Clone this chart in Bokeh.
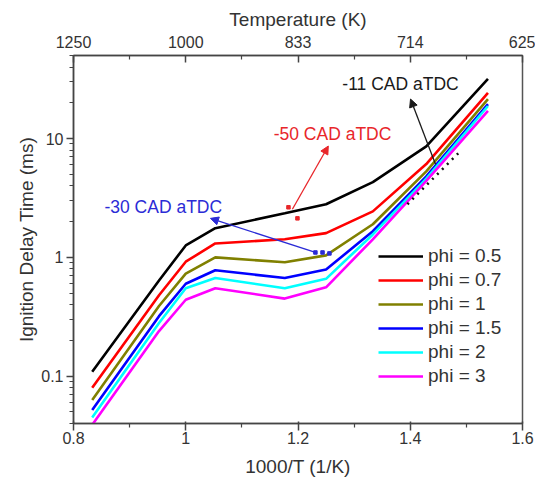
from bokeh.plotting import figure
from bokeh.models import (LinearAxis, FixedTicker, CustomJSTickFormatter, Legend,
                          LegendItem, Label, Arrow, NormalHead)
from bokeh.embed import file_html
from bokeh.resources import INLINE

# ---------------- data ----------------
temps_K = [1200, 1050, 1000, 950, 850, 800, 750, 700, 650]
inv_T = [1000.0 / t for t in temps_K]

phi_labels = ["phi = 0.5", "phi = 0.7", "phi = 1", "phi = 1.5", "phi = 2", "phi = 3"]
phi_colors = ["#000000", "#ff0000", "#808000", "#0000ff", "#00ffff", "#ff00ff"]
idt_phi_05 = [0.109, 0.64, 1.26, 1.76, 2.35, 2.8, 4.3, 8.6, 31.8]
idt_phi_07 = [0.080, 0.48, 0.92, 1.31, 1.42, 1.6, 2.44, 6.1, 24.2]
idt_phi_1 = [0.063, 0.39, 0.73, 1.00, 0.91, 1.04, 1.9, 5.3, 21.5]
idt_phi_15 = [0.052, 0.32, 0.60, 0.78, 0.67, 0.79, 1.66, 4.8, 19.5]
idt_phi_2 = [0.045, 0.28, 0.55, 0.67, 0.55, 0.66, 1.56, 4.6, 18.8]
idt_phi_3 = [0.039, 0.24, 0.44, 0.55, 0.45, 0.56, 1.42, 4.4, 17.1]
series = [idt_phi_05, idt_phi_07, idt_phi_1, idt_phi_15, idt_phi_2, idt_phi_3]

x_ticks = [0.8, 1.0, 1.2, 1.4, 1.6]
x_minor = [0.9, 1.1, 1.3, 1.5]
top_tick_labels = ["1250", "1000", "833", "714", "625"]
y_ticks = [0.1, 1, 10]
y_tick_labels = ["0.1", "1", "10"]
y_minor = [0.04, 0.05, 0.06, 0.07, 0.08, 0.09, 0.2, 0.3, 0.4, 0.5, 0.6, 0.7, 0.8, 0.9,
           2, 3, 4, 5, 6, 7, 8, 9, 20, 30, 40, 50]

# annotations
ann_texts = ["-11 CAD aTDC", "-50 CAD aTDC", "-30 CAD aTDC"]
ann_colors = ["#1a1a1a", "#e8262a", "#2b2bd6"]
ann_text_x = [1.3826, 1.2615, 0.960]
ann_text_y = [28.8, 10.9, 2.64]
ann_arrow_x0 = [1.445, 1.190, 1.231]
ann_arrow_y0 = [6.09, 2.54, 1.10]
ann_arrow_x1 = [1.4005, 1.254, 1.044]
ann_arrow_y1 = [21.5, 8.65, 2.13]
dots11_x = [1.395, 1.4895]
dots11_y = [2.80, 7.85]
dots50_x = [1.183, 1.199]
dots50_y = [2.64, 2.13]
dots30_x = [1.231, 1.2437, 1.256]
dots30_y = [1.10, 1.10, 1.08]

FONT = "Liberation Sans"
TXT = "#333333"

p = figure(width=535, height=484, x_range=(0.8, 1.6), y_range=(0.04, 50),
           y_axis_type="log", output_backend="svg", toolbar_location=None,
           min_border_left=73, min_border_right=13, min_border_top=55,
           min_border_bottom=61, background_fill_color="white",
           border_fill_color="white")
p.xgrid.visible = False
p.ygrid.visible = False
p.outline_line_color = "#555555"
p.outline_line_width = 1.5

# bottom axis
xa = p.xaxis[0]
xa.ticker = FixedTicker(ticks=x_ticks, minor_ticks=x_minor)
xa.axis_label = "1000/T (1/K)"
# left axis
ya = p.yaxis[0]
ya.ticker = FixedTicker(ticks=y_ticks, minor_ticks=y_minor)
ya.formatter = CustomJSTickFormatter(args=dict(t=y_ticks, l=y_tick_labels), code="""
const i = t.findIndex(v => Math.abs(Math.log10(v) - Math.log10(tick)) < 1e-6);
return i >= 0 ? l[i] : "";
""")
ya.axis_label = "Ignition Delay Time (ms)"

top = LinearAxis(ticker=FixedTicker(ticks=x_ticks, minor_ticks=x_minor),
                 formatter=CustomJSTickFormatter(args=dict(t=x_ticks, l=top_tick_labels), code="""
const i = t.findIndex(v => Math.abs(v - tick) < 1e-6);
return i >= 0 ? l[i] : "";
"""), axis_label="Temperature (K)")
p.add_layout(top, "above")

for ax in [xa, ya, top]:
    ax.axis_line_color = "#444444"
    ax.axis_line_width = 1.5
    ax.major_tick_line_color = "#444444"
    ax.minor_tick_line_color = "#444444"
    ax.major_tick_line_width = 1.5
    ax.minor_tick_line_width = 1.2
    ax.major_label_text_font = FONT
    ax.major_label_text_font_size = "16px"
    ax.major_label_text_color = TXT
    ax.axis_label_text_font = FONT
    ax.axis_label_text_font_size = "19px"
    ax.axis_label_text_font_style = "normal"
    ax.axis_label_text_color = TXT

xa.major_tick_in = 2
xa.major_tick_out = 7
xa.minor_tick_in = 0
xa.minor_tick_out = 4
xa.major_label_standoff = 1
xa.axis_label_standoff = 9

ya.major_tick_in = 0
ya.major_tick_out = 7
ya.minor_tick_in = 0
ya.minor_tick_out = 4
ya.major_label_standoff = 3
ya.axis_label_standoff = 1

top.major_tick_in = 7
top.major_tick_out = 0
top.minor_tick_in = 4
top.minor_tick_out = 0
top.major_label_standoff = 8
top.axis_label_standoff = 3

items = []
for lab, col, ys in zip(phi_labels, phi_colors, series):
    r = p.line(inv_T, ys, line_color=col, line_width=2.6)
    items.append(LegendItem(label=lab, renderers=[r]))

legend = Legend(items=items, location=(305, 35), padding=0, margin=0, spacing=0,
                glyph_width=45, glyph_height=24, label_height=24, label_standoff=5,
                label_text_font=FONT, label_text_font_size="19px", label_text_color=TXT,
                border_line_color=None, background_fill_alpha=0)
p.add_layout(legend)

# annotation marks
p.line(dots11_x, dots11_y, line_color="#111111", line_width=2.5, line_dash="2 5")
p.scatter(dots50_x, dots50_y, marker="square", size=3.5, color=ann_colors[1])
p.scatter(dots30_x, dots30_y, marker="square", size=3.5, color=ann_colors[2])

for txt, col, tx, ty, x0, y0, x1, y1 in zip(ann_texts, ann_colors, ann_text_x, ann_text_y,
                                           ann_arrow_x0, ann_arrow_y0, ann_arrow_x1, ann_arrow_y1):
    p.add_layout(Arrow(x_start=x0, y_start=y0, x_end=x1, y_end=y1, line_color=col,
                       line_width=1.3,
                       end=NormalHead(size=8, fill_color=col, line_color=col)))
    p.add_layout(Label(x=tx, y=ty, text=txt, text_color=col, text_font=FONT,
                       text_font_size="17.5px", text_align="center",
                       text_baseline="middle"))

open("out.html", "w").write(file_html(p, INLINE))
